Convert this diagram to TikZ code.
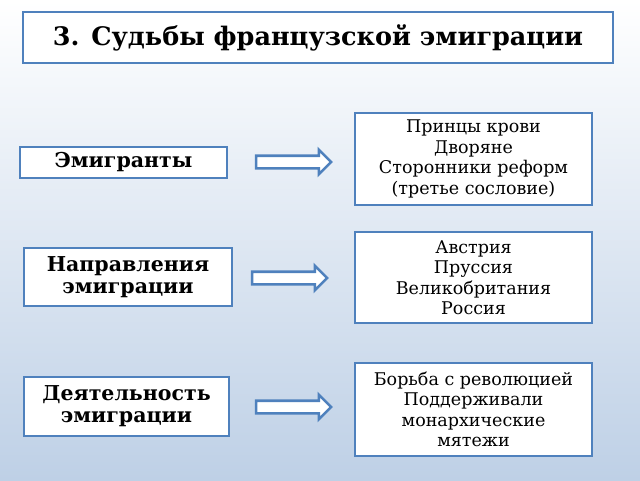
\documentclass[tikz,border=0pt]{standalone}
\usepackage{fontspec}
\setmainfont{DejaVu Serif}
\usetikzlibrary{shapes.arrows}
\definecolor{frame}{RGB}{79,129,189}
\tikzset{
  box/.style={draw=frame, line width=2.8pt, fill=white, inner sep=1pt},
  side/.style={box, font=\bfseries\fontsize{20.5}{22}\selectfont, align=center},
  list/.style={box, font=\fontsize{17.5}{20.5}\selectfont, align=center},
  blockarrow/.style={single arrow, draw=frame, line width=2.6pt, fill=white,
    minimum height=75pt, inner sep=5pt, single arrow head extend=6pt}
}
\begin{document}
\begin{tikzpicture}[x=1pt,y=-1pt]
\shade[top color=white, bottom color={rgb,255:red,190;green,208;blue,230}] (0,0) rectangle (640,480);
\useasboundingbox (0,0) rectangle (640,480);
% title
\node[box, minimum width=590pt, minimum height=51pt, font=\bfseries\fontsize{25.5}{28}\selectfont] (title) at (318,37.5) {3. Судьбы французской эмиграции};
% left column
\node[side, minimum width=207pt, minimum height=31pt] (emig) at (123.5,162.5) {Эмигранты};
\node[side, minimum width=208pt, minimum height=58pt] (dir) at (128,277) {Направления\\эмиграции};
\node[side, minimum width=205pt, minimum height=59pt] (act) at (126.5,406.5) {Деятельность\\эмиграции};
% right column
\node[list, minimum width=237pt, minimum height=92pt] (who) at (473.5,159) {Принцы крови\\Дворяне\\Сторонники реформ\\(третье сословие)};
\node[list, minimum width=237pt, minimum height=91pt] (where) at (473.5,277.5) {Австрия\\Пруссия\\Великобритания\\Россия};
\node[list, minimum width=237pt, minimum height=93pt] (what) at (473.5,409.5) {Борьба с революцией\\Поддерживали\\монархические\\мятежи};
% arrows
\node[blockarrow] (a1) at (290.5,162) {};
\node[blockarrow] (a2) at (286.5,278) {};
\node[blockarrow] (a3) at (290.5,407) {};
\end{tikzpicture}
\end{document}
